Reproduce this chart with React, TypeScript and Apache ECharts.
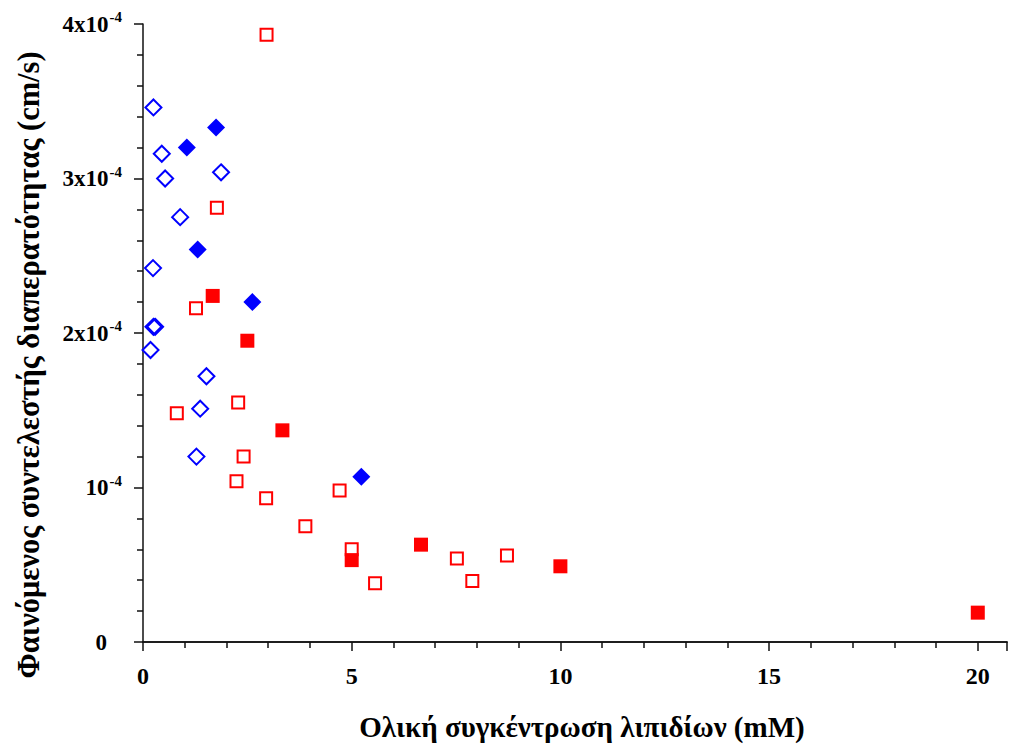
import React, { useEffect, useRef } from "react";
import * as echarts from "echarts";

// x: total lipid concentration (mM); y: apparent permeability in units of 1e-4 cm/s
const openDiamonds: number[][] = [
  [0.25, 3.46], [0.45, 3.16], [0.53, 3.0], [1.87, 3.04], [0.89, 2.75],
  [0.24, 2.42], [0.25, 2.04], [0.29, 2.04], [0.18, 1.89], [1.52, 1.72],
  [1.37, 1.51], [1.28, 1.2],
];
const filledDiamonds: number[][] = [
  [1.75, 3.33], [1.05, 3.2], [1.31, 2.54], [2.62, 2.2], [5.23, 1.07],
];
const openSquares: number[][] = [
  [2.96, 3.93], [1.77, 2.81], [1.27, 2.16], [2.28, 1.55], [0.81, 1.48],
  [2.41, 1.2], [2.24, 1.04], [4.71, 0.98], [2.95, 0.93], [3.89, 0.75],
  [5.0, 0.6], [5.56, 0.38], [7.52, 0.54], [7.89, 0.395], [8.72, 0.56],
];
const filledSquares: number[][] = [
  [1.67, 2.24], [2.5, 1.95], [3.34, 1.37], [5.0, 0.53], [6.66, 0.63],
  [10.0, 0.49], [20.0, 0.19],
];
const xTicks = [0, 5, 10, 15, 20];
const yTickLabels = ["{z|0}", "{b|10}{s|-4}", "{b|2x10}{s|-4}", "{b|3x10}{s|-4}", "{b|4x10}{s|-4}"];

const xTitle = "Ολική συγκέντρωση λιπιδίων (mM)";
const yTitle = "Φαινόμενος συντελεστής διαπερατότητας (cm/s)";

const FONT = "'Liberation Serif', 'Times New Roman', serif";

export default function App() {
  const ref = useRef<HTMLDivElement>(null);
  useEffect(() => {
    if (!ref.current) return;
    const chart = echarts.init(ref.current, null, { renderer: "svg" });
    const axisLine = { show: true, lineStyle: { color: "#111", width: 1.5 } };
    chart.setOption({
      animation: false,
      backgroundColor: "#fff",
      grid: { left: 143, top: 24, right: 4, bottom: 103 },
      xAxis: [
        {
          type: "value",
          min: 0,
          max: 20.7,
          interval: 5,
          axisLine: { ...axisLine, onZero: false },
          axisTick: { show: true, inside: false, length: 9, lineStyle: { color: "#111", width: 1.5 } },
          minorTick: { show: true, splitNumber: 5, length: 6, lineStyle: { color: "#111", width: 1.5 } },
          splitLine: { show: false },
          axisLabel: {
            margin: 22,
            color: "#000",
            fontFamily: FONT,
            fontWeight: "bold",
            fontSize: 24,
            showMaxLabel: false,
            formatter: (v: number) => (xTicks.includes(Math.round(v)) && Math.abs(v - Math.round(v)) < 1e-6 ? String(Math.round(v)) : ""),
          },
        },
        {
          type: "value",
          position: "top",
          min: 0,
          max: 20.7,
          interval: 5,
          axisLine: axisLine,
          axisTick: { show: false },
          axisLabel: { show: false },
          splitLine: { show: false },
        },
      ],
      yAxis: {
        type: "value",
        min: 0,
        max: 4,
        interval: 1,
        axisLine: { ...axisLine, onZero: false },
        axisTick: { show: true, inside: false, length: 9, lineStyle: { color: "#111", width: 1.5 } },
        minorTick: { show: true, splitNumber: 5, length: 6, lineStyle: { color: "#111", width: 1.5 } },
        splitLine: { show: false },
        axisLabel: {
          margin: 21,
          color: "#000",
          fontFamily: FONT,
          fontWeight: "bold",
          fontSize: 23,
          formatter: (v: number) => yTickLabels[Math.round(v)] ?? "",
          rich: {
            z: { fontFamily: FONT, fontWeight: "bold", fontSize: 23, color: "#000", padding: [0, 15, 0, 0] },
            b: { fontFamily: FONT, fontWeight: "bold", fontSize: 23, color: "#000" },
            s: { fontFamily: FONT, fontWeight: "bold", fontSize: 15, color: "#000", padding: [0, 0, 14, 1] },
          },
        },
      },
      graphic: [
        {
          type: "text",
          x: 582,
          y: 727,
          style: {
            text: xTitle,
            fontFamily: FONT,
            fontWeight: "bold",
            fontSize: 29,
            fill: "#000",
            align: "center",
            verticalAlign: "middle",
          },
        },
        {
          type: "text",
          x: 29,
          y: 365,
          rotation: Math.PI / 2,
          style: {
            text: yTitle,
            fontFamily: FONT,
            fontWeight: "bold",
            fontSize: 30.5,
            fill: "#000",
            align: "center",
            verticalAlign: "middle",
          },
        },
      ],
      series: [
        {
          type: "scatter",
          name: "open squares",
          data: openSquares,
          symbol: "rect",
          symbolSize: 12,
          itemStyle: { color: "#fff", borderColor: "#ff0000", borderWidth: 2, opacity: 1 },
        },
        {
          type: "scatter",
          name: "filled squares",
          data: filledSquares,
          symbol: "rect",
          symbolSize: 14,
          itemStyle: { color: "#ff0000", opacity: 1 },
        },
        {
          type: "scatter",
          name: "open diamonds",
          data: openDiamonds,
          symbol: "diamond",
          symbolSize: 16,
          itemStyle: { color: "rgba(255,255,255,0)", borderColor: "#0000ff", borderWidth: 2, opacity: 1 },
        },
        {
          type: "scatter",
          name: "filled diamonds",
          data: filledDiamonds,
          symbol: "diamond",
          symbolSize: 18,
          itemStyle: { color: "#0000ff", opacity: 1 },
        },
      ],
    });
    return () => chart.dispose();
  }, []);
  return <div ref={ref} style={{ position: "fixed", left: 0, top: 0, width: 1011, height: 745 }} />;
}
